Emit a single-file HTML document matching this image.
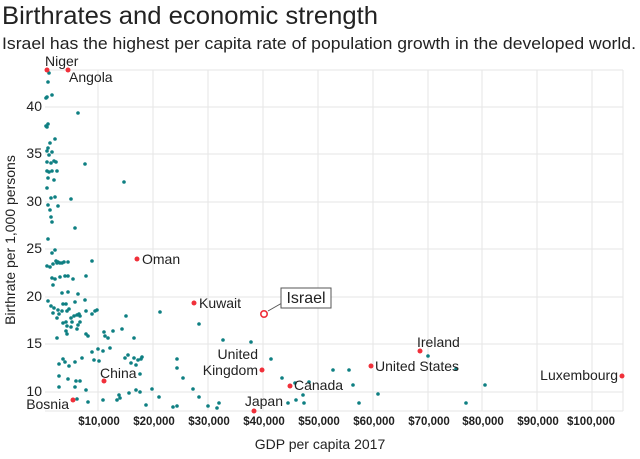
<!DOCTYPE html>
<html><head><meta charset="utf-8"><style>
body{margin:0;background:#fff;width:640px;height:454px;overflow:hidden;font-family:"Liberation Sans",sans-serif}
</style></head><body>
<svg width="640" height="454" xmlns="http://www.w3.org/2000/svg" font-family="Liberation Sans, sans-serif">
<text x="2" y="24" font-size="25" fill="#222" textLength="376" lengthAdjust="spacingAndGlyphs">Birthrates and economic strength</text>
<text x="2" y="49" font-size="16.5" fill="#222" textLength="634" lengthAdjust="spacingAndGlyphs">Israel has the highest per capita rate of population growth in the developed world.</text>
<g stroke="#e6e6e6" stroke-width="1">
<line x1="45" y1="70" x2="623" y2="70"/><line x1="45" y1="107" x2="623" y2="107"/><line x1="45" y1="154" x2="623" y2="154"/><line x1="45" y1="202" x2="623" y2="202"/><line x1="45" y1="249" x2="623" y2="249"/><line x1="45" y1="297" x2="623" y2="297"/><line x1="45" y1="344" x2="623" y2="344"/><line x1="45" y1="392" x2="623" y2="392"/><line x1="45" y1="411" x2="623" y2="411"/>
<line x1="98" y1="70" x2="98" y2="411"/><line x1="153" y1="70" x2="153" y2="411"/><line x1="208" y1="70" x2="208" y2="411"/><line x1="263" y1="70" x2="263" y2="411"/><line x1="318" y1="70" x2="318" y2="411"/><line x1="373" y1="70" x2="373" y2="411"/><line x1="428" y1="70" x2="428" y2="411"/><line x1="482" y1="70" x2="482" y2="411"/><line x1="537" y1="70" x2="537" y2="411"/><line x1="592" y1="70" x2="592" y2="411"/><line x1="623" y1="70" x2="623" y2="411"/>
</g>
<g font-size="14" fill="#222" text-anchor="end">
<text x="42" y="111">40</text><text x="42" y="158">35</text><text x="42" y="206">30</text><text x="42" y="253">25</text><text x="42" y="301">20</text><text x="42" y="348">15</text><text x="42" y="396">10</text>
</g>
<g font-size="11.5" fill="#222" text-anchor="middle" font-weight="bold">
<text x="99" y="425">$10,000</text><text x="154" y="425">$20,000</text><text x="209" y="425">$30,000</text><text x="264" y="425">$40,000</text><text x="319" y="425">$50,000</text><text x="374" y="425">$60,000</text><text x="429" y="425">$70,000</text><text x="483" y="425">$80,000</text><text x="538" y="425">$90,000</text><text x="591" y="425">$100,000</text>
</g>
<text x="320" y="449" font-size="14" fill="#222" text-anchor="middle">GDP per capita 2017</text>
<text transform="translate(15,240) rotate(-90)" font-size="14" fill="#222" text-anchor="middle">Birthrate per 1,000 persons</text>
<g fill="#0e7f82">
<circle cx="49" cy="73" r="1.8"/><circle cx="48" cy="82" r="1.8"/><circle cx="47" cy="97" r="1.8"/><circle cx="52" cy="95" r="1.8"/><circle cx="46" cy="98" r="1.8"/><circle cx="78" cy="113" r="1.8"/><circle cx="46" cy="126" r="1.8"/><circle cx="47" cy="127" r="1.8"/><circle cx="48" cy="124" r="1.8"/><circle cx="55" cy="139" r="1.8"/><circle cx="50" cy="143" r="1.8"/><circle cx="48" cy="148" r="1.8"/><circle cx="47" cy="151" r="1.8"/><circle cx="52" cy="152" r="1.8"/><circle cx="49" cy="155" r="1.8"/><circle cx="54" cy="161" r="1.8"/><circle cx="47" cy="162" r="1.8"/><circle cx="51" cy="163" r="1.8"/><circle cx="85" cy="164" r="1.8"/><circle cx="56" cy="162" r="1.8"/><circle cx="47" cy="171" r="1.8"/><circle cx="52" cy="171" r="1.8"/><circle cx="57" cy="171" r="1.8"/><circle cx="124" cy="182" r="1.8"/><circle cx="49" cy="172" r="1.8"/><circle cx="48" cy="178" r="1.8"/><circle cx="54" cy="180" r="1.8"/><circle cx="47" cy="188" r="1.8"/><circle cx="51" cy="198" r="1.8"/><circle cx="55" cy="197" r="1.8"/><circle cx="71" cy="199" r="1.8"/><circle cx="48" cy="205" r="1.8"/><circle cx="58" cy="206" r="1.8"/><circle cx="50" cy="210" r="1.8"/><circle cx="51" cy="217" r="1.8"/><circle cx="75" cy="228" r="1.8"/><circle cx="52" cy="222" r="1.8"/><circle cx="48" cy="239" r="1.8"/><circle cx="52" cy="253" r="1.8"/><circle cx="55" cy="250" r="1.8"/><circle cx="57" cy="263" r="1.8"/>
<circle cx="47" cy="266" r="1.8"/><circle cx="50" cy="267" r="1.8"/><circle cx="53" cy="264" r="1.8"/><circle cx="56" cy="261" r="1.8"/><circle cx="58" cy="262" r="1.8"/><circle cx="60" cy="263" r="1.8"/><circle cx="62" cy="263" r="1.8"/><circle cx="64" cy="262" r="1.8"/><circle cx="68" cy="262" r="1.8"/><circle cx="92" cy="261" r="1.8"/><circle cx="52" cy="278" r="1.8"/><circle cx="55" cy="279" r="1.8"/><circle cx="60" cy="277" r="1.8"/><circle cx="65" cy="276" r="1.8"/><circle cx="68" cy="276" r="1.8"/><circle cx="53" cy="285" r="1.8"/><circle cx="73" cy="279" r="1.8"/><circle cx="86" cy="276" r="1.8"/><circle cx="62" cy="293" r="1.8"/><circle cx="68" cy="292" r="1.8"/><circle cx="78" cy="294" r="1.8"/><circle cx="48" cy="301" r="1.8"/><circle cx="51" cy="306" r="1.8"/><circle cx="54" cy="308" r="1.8"/><circle cx="63" cy="304" r="1.8"/><circle cx="66" cy="304" r="1.8"/><circle cx="75" cy="302" r="1.8"/><circle cx="85" cy="300" r="1.8"/><circle cx="53" cy="313" r="1.8"/><circle cx="58" cy="310" r="1.8"/><circle cx="59" cy="314" r="1.8"/><circle cx="62" cy="311" r="1.8"/><circle cx="57" cy="318" r="1.8"/><circle cx="67" cy="311" r="1.8"/><circle cx="69" cy="309" r="1.8"/><circle cx="71" cy="318" r="1.8"/><circle cx="74" cy="316" r="1.8"/><circle cx="77" cy="315" r="1.8"/><circle cx="79" cy="314" r="1.8"/><circle cx="80" cy="316" r="1.8"/><circle cx="86" cy="311" r="1.8"/><circle cx="92" cy="314" r="1.8"/><circle cx="95" cy="311" r="1.8"/><circle cx="97" cy="310" r="1.8"/><circle cx="66" cy="322" r="1.8"/><circle cx="67" cy="326" r="1.8"/><circle cx="63" cy="323" r="1.8"/><circle cx="71" cy="327" r="1.8"/><circle cx="72" cy="322" r="1.8"/><circle cx="57" cy="338" r="1.8"/><circle cx="66" cy="331" r="1.8"/><circle cx="67" cy="334" r="1.8"/><circle cx="78" cy="325" r="1.8"/><circle cx="77" cy="329" r="1.8"/><circle cx="80" cy="322" r="1.8"/><circle cx="88" cy="336" r="1.8"/><circle cx="86" cy="334" r="1.8"/><circle cx="104" cy="332" r="1.8"/><circle cx="105" cy="336" r="1.8"/><circle cx="108" cy="338" r="1.8"/><circle cx="113" cy="331" r="1.8"/><circle cx="122" cy="329" r="1.8"/><circle cx="126" cy="316" r="1.8"/><circle cx="134" cy="338" r="1.8"/><circle cx="98" cy="349" r="1.8"/><circle cx="103" cy="351" r="1.8"/><circle cx="110" cy="348" r="1.8"/><circle cx="63" cy="359" r="1.8"/><circle cx="59" cy="364" r="1.8"/><circle cx="65" cy="362" r="1.8"/><circle cx="69" cy="366" r="1.8"/><circle cx="75" cy="362" r="1.8"/><circle cx="82" cy="358" r="1.8"/><circle cx="92" cy="352" r="1.8"/><circle cx="94" cy="360" r="1.8"/><circle cx="99" cy="361" r="1.8"/><circle cx="125" cy="358" r="1.8"/><circle cx="128" cy="355" r="1.8"/><circle cx="136" cy="365" r="1.8"/><circle cx="138" cy="360" r="1.8"/><circle cx="141" cy="359" r="1.8"/><circle cx="142" cy="357" r="1.8"/><circle cx="140" cy="374" r="1.8"/><circle cx="131" cy="363" r="1.8"/><circle cx="134" cy="358" r="1.8"/>
<circle cx="160" cy="312" r="1.8"/><circle cx="199" cy="324" r="1.8"/><circle cx="223" cy="340" r="1.8"/><circle cx="251" cy="342" r="1.8"/><circle cx="177" cy="359" r="1.8"/><circle cx="177" cy="368" r="1.8"/><circle cx="183" cy="378" r="1.8"/><circle cx="193" cy="389" r="1.8"/><circle cx="199" cy="397" r="1.8"/><circle cx="208" cy="406" r="1.8"/><circle cx="217" cy="408" r="1.8"/><circle cx="219" cy="403" r="1.8"/><circle cx="271" cy="359" r="1.8"/><circle cx="282" cy="378" r="1.8"/><circle cx="288" cy="403" r="1.8"/><circle cx="296" cy="400" r="1.8"/><circle cx="303" cy="395" r="1.8"/><circle cx="304" cy="403" r="1.8"/><circle cx="295" cy="383" r="1.8"/><circle cx="309" cy="382" r="1.8"/><circle cx="173" cy="407" r="1.8"/><circle cx="177" cy="406" r="1.8"/><circle cx="159" cy="397" r="1.8"/><circle cx="152" cy="389" r="1.8"/><circle cx="146" cy="405" r="1.8"/><circle cx="140" cy="392" r="1.8"/><circle cx="136" cy="390" r="1.8"/><circle cx="129" cy="393" r="1.8"/><circle cx="120" cy="398" r="1.8"/><circle cx="117" cy="400" r="1.8"/><circle cx="119" cy="395" r="1.8"/><circle cx="103" cy="400" r="1.8"/><circle cx="88" cy="402" r="1.8"/><circle cx="86" cy="390" r="1.8"/><circle cx="77" cy="399" r="1.8"/><circle cx="75" cy="387" r="1.8"/><circle cx="80" cy="381" r="1.8"/><circle cx="76" cy="381" r="1.8"/><circle cx="59" cy="387" r="1.8"/><circle cx="59" cy="376" r="1.8"/><circle cx="68" cy="379" r="1.8"/>
<circle cx="428" cy="356" r="1.8"/><circle cx="456" cy="369" r="1.8"/><circle cx="333" cy="370" r="1.8"/><circle cx="349" cy="370" r="1.8"/><circle cx="353" cy="385" r="1.8"/><circle cx="378" cy="394" r="1.8"/><circle cx="359" cy="403" r="1.8"/><circle cx="466" cy="403" r="1.8"/><circle cx="485" cy="385" r="1.8"/>
</g>
<g fill="#f0303a">
<circle cx="47" cy="70" r="2.5"/><circle cx="68" cy="70" r="2.5"/><circle cx="137" cy="259" r="2.5"/><circle cx="194" cy="303" r="2.5"/><circle cx="262" cy="370" r="2.5"/><circle cx="104" cy="381" r="2.5"/><circle cx="73" cy="400" r="2.5"/><circle cx="254" cy="411" r="2.5"/><circle cx="290" cy="386" r="2.5"/><circle cx="371" cy="366" r="2.5"/><circle cx="420" cy="351" r="2.5"/><circle cx="622" cy="376" r="2.5"/>
</g>
<circle cx="264" cy="314" r="3.2" fill="#fff" stroke="#f0303a" stroke-width="1.6"/>
<polyline points="268,311 282,303 282,303" fill="none" stroke="#555"/>
<rect x="281" y="288" width="50" height="20" fill="#fff" stroke="#555"/>
<text x="306" y="303" font-size="16" fill="#222" text-anchor="middle">Israel</text>
<g font-size="14" fill="#222">
<text x="45" y="66">Niger</text><text x="69" y="82">Angola</text><text x="142" y="264">Oman</text><text x="199" y="308">Kuwait</text>
<text x="258" y="359" text-anchor="end">United</text><text x="258" y="375" text-anchor="end">Kingdom</text>
<text x="100" y="378">China</text><text x="69" y="409" text-anchor="end">Bosnia</text><text x="283" y="406" text-anchor="end">Japan</text>
<text x="294" y="390">Canada</text><text x="375" y="371">United States</text><text x="417" y="347">Ireland</text><text x="618" y="380" text-anchor="end">Luxembourg</text>
</g>
</svg>
</body></html>
